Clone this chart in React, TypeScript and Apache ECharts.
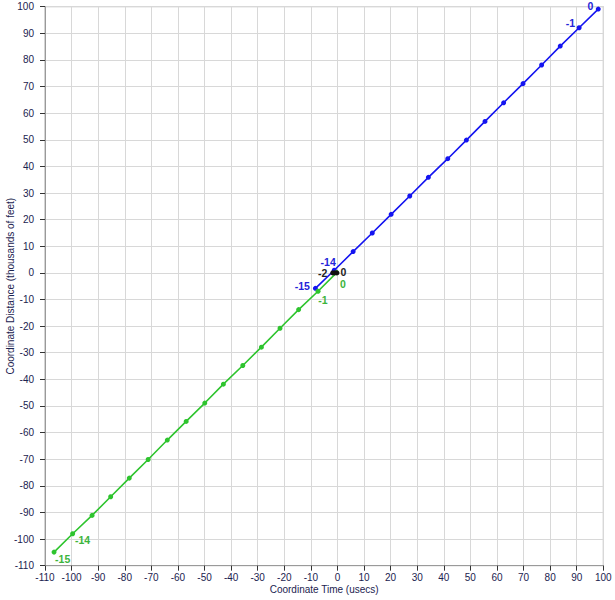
import React, { useEffect, useRef } from "react";
import * as echarts from "echarts";

// Tick range
const axisMin = -110;
const axisMax = 100;
const axisStep = 10;

// Blue series (point index -15 .. 0)
const blueIdx = [-15, -14, -13, -12, -11, -10, -9, -8, -7, -6, -5, -4, -3, -2, -1, 0];
const blueX = [-8.3, -1.2, 5.9, 13.1, 20.2, 27.2, 34.2, 41.5, 48.5, 55.5, 62.5, 69.8, 76.8, 83.8, 90.9, 98.1];
const blueY = [-5.8, 1.0, 8.0, 15.0, 22.0, 28.9, 35.9, 42.9, 49.9, 56.9, 63.9, 71.1, 78.1, 85.2, 92.1, 99.1];

// Green series (point index -15 .. 0)
const greenIdx = [-15, -14, -13, -12, -11, -10, -9, -8, -7, -6, -5, -4, -3, -2, -1, 0];
const greenX = [-106.6, -99.6, -92.3, -85.3, -78.3, -71.2, -64.0, -56.9, -49.9, -42.9, -35.6, -28.6, -21.6, -14.6, -7.3, -0.3];
const greenY = [-104.9, -98.0, -91.1, -84.1, -77.1, -70.1, -62.8, -55.8, -48.9, -41.8, -34.8, -27.9, -20.8, -13.8, -6.9, 0.1];

// Black series (point index -2 .. 0)
const blackIdx = [-2, -1, 0];
const blackX = [-1.8, -1.0, -0.2];
const blackY = [0, 0, 0];

const xTitle = "Coordinate Time (usecs)";
const yTitle = "Coordinate Distance (thousands of feet)";

// label placement (style only): index -> [position, dx, dy]
const blueLabels: Record<number, [string, number, number]> = {
  [-15]: ["left", -3, -2],
  [-14]: ["left", 4, -8],
  [-1]: ["left", -1.5, -4.5],
  [0]: ["left", -2.5, -3],
};
const greenLabels: Record<number, [string, number, number]> = {
  [-15]: ["right", -1.5, 7],
  [-14]: ["right", -0.2, 6],
  [-1]: ["right", -2.2, 8.5],
  [0]: ["right", 0.8, 11],
};
const blackLabels: Record<number, [string, number, number]> = {
  [-2]: ["left", -2.7, 0],
  [0]: ["right", 1.2, -0.5],
};

const FONT = "'Liberation Sans', Arial, sans-serif";

function build(xs: number[], ys: number[], idx: number[], labels: Record<number, [string, number, number]>, color: string) {
  return xs.map((x, i) => {
    const l = labels[idx[i]];
    return {
      value: [x, ys[i], idx[i]],
      label: l
        ? {
            show: true,
            position: l[0],
            distance: 0,
            offset: [l[1], l[2]],
            formatter: String(idx[i]),
            color,
            fontSize: 10.5,
            fontWeight: "bold",
            fontFamily: FONT,
            lineHeight: 9,
          }
        : { show: false },
    };
  });
}

export default function App() {
  const ref = useRef<HTMLDivElement>(null);
  useEffect(() => {
    if (!ref.current) return;
    const chart = echarts.init(ref.current, null, { renderer: "svg" });
    const axisCommon = {
      type: "value",
      min: axisMin,
      max: axisMax,
      interval: axisStep,
      nameLocation: "middle",
      nameMoveOverlap: false,
      nameTextStyle: { color: "#1b2350", fontSize: 10, fontFamily: FONT },
      axisLine: { show: true, onZero: false, lineStyle: { color: "#9a9a9a", width: 1 } },
      axisTick: { show: true, length: 5, lineStyle: { color: "#333" } },
      splitLine: { show: true, lineStyle: { color: "#d8d8d8", width: 1 } },
    };
    chart.setOption({
      animation: false,
      backgroundColor: "#ffffff",
      grid: {
        left: 45,
        top: 6.7,
        right: 11.7,
        bottom: 34.3,
        show: true,
        borderColor: "#a8a8a8",
        borderWidth: 1,
        containLabel: false,
        outerBoundsMode: "none",
      },
      xAxis: {
        ...axisCommon,
        name: xTitle,
        nameGap: 19,
        axisLabel: { color: "#1b2350", fontSize: 10, fontFamily: FONT, margin: 7 },
      },
      yAxis: {
        ...axisCommon,
        name: yTitle,
        nameGap: 30,
        axisLabel: { color: "#1b2350", fontSize: 10, fontFamily: FONT, margin: 11 },
      },
      series: [
        {
          type: "line",
          data: build(blueX, blueY, blueIdx, blueLabels, "#2424d8"),
          symbol: "circle",
          symbolSize: 5,
          showAllSymbol: true,
          lineStyle: { color: "#1414f0", width: 1.6 },
          itemStyle: { color: "#1414f0" },
          z: 2,
        },
        {
          type: "line",
          data: build(greenX, greenY, greenIdx, greenLabels, "#3cb43c"),
          symbol: "circle",
          symbolSize: 5,
          showAllSymbol: true,
          lineStyle: { color: "#2ec42e", width: 1.6 },
          itemStyle: { color: "#2ec42e" },
          z: 3,
        },
        {
          type: "line",
          data: build(blackX, blackY, blackIdx, blackLabels, "#222222"),
          symbol: "circle",
          symbolSize: 5,
          showAllSymbol: true,
          lineStyle: { color: "#111111", width: 4 },
          itemStyle: { color: "#111111" },
          z: 4,
        },
      ],
    });
    return () => chart.dispose();
  }, []);
  return (
    <div
      ref={ref}
      style={{ position: "fixed", left: 0, top: 0, width: 615, height: 600 }}
    />
  );
}
